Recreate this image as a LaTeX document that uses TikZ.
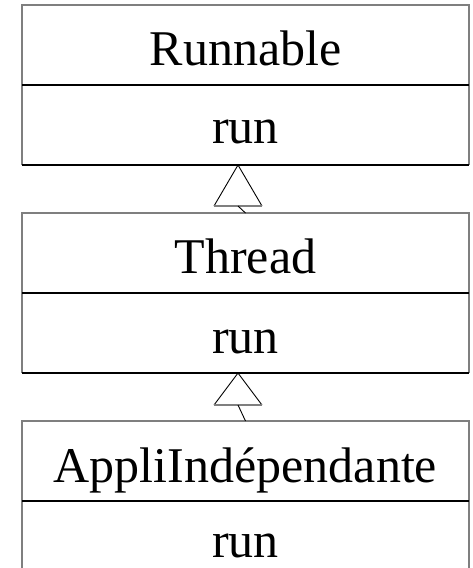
\documentclass[tikz,border=0pt]{standalone}
\usepackage{fontspec}
\setmainfont{Liberation Serif}
\usetikzlibrary{calc}
\definecolor{framegray}{HTML}{7F7F7F}
\begin{document}
\begin{tikzpicture}[x=1pt,y=-1pt,
  classbox/.style={rectangle, minimum width=447pt, minimum height=160pt,
    inner sep=0pt, outer sep=0pt},
  outline/.style={draw=framegray, line width=1.4pt},
  rule/.style={draw=black, line width=1.1pt},
  classtext/.style={font=\fontsize{50}{60}\selectfont, anchor=base, inner sep=0pt},
  tri/.style={draw=black, line width=0.9pt, line join=miter},
  tribase/.style={draw=framegray, line width=1.4pt},
  tail/.style={draw=black, line width=0.9pt}]
  \clip (0,0) rectangle (473,568);

  % class boxes (two compartments each)
  \node[classbox] (c1) at (245.5,85) {};
  \node[classbox] (c2) at (245.5,293) {};
  \node[classbox] (c3) at (245.5,501) {};

  \foreach \c in {c1,c2,c3}{
    \draw[outline] (\c.south west) |- (\c.north east) -- (\c.south east);
    \draw[rule] (\c.south west) -- (\c.south east);
    \draw[rule] (\c.west) -- (\c.east);
  }

  % names and operations
  \node[classtext] (n1) at (245.5,65) {Runnable};
  \node[classtext] (o1) at (245.5,143) {run};
  \node[classtext] (n2) at (245.5,273) {Thread};
  \node[classtext] (o2) at (245.5,353) {run};
  \node[classtext] (n3) at (245.5,482) {AppliIndépendante};
  \node[classtext] (o3) at (245.5,557) {run};

  % generalisation arrows
  \coordinate (a1) at (238,165);
  \coordinate (b1) at (238,206);
  \draw[tri] ($(b1)+(-24,0)$) -- (a1) -- ($(b1)+(24,0)$);
  \draw[tribase] ($(b1)+(-24,0)$) -- ($(b1)+(24,0)$);
  \draw[tail] (b1) -- (c2.north);

  \coordinate (a2) at (238,373);
  \coordinate (b2) at (238,405);
  \draw[tri] ($(b2)+(-24,0)$) -- (a2) -- ($(b2)+(24,0)$);
  \draw[tribase] ($(b2)+(-24,0)$) -- ($(b2)+(24,0)$);
  \draw[tail] (b2) -- (c3.north);
\end{tikzpicture}
\end{document}
